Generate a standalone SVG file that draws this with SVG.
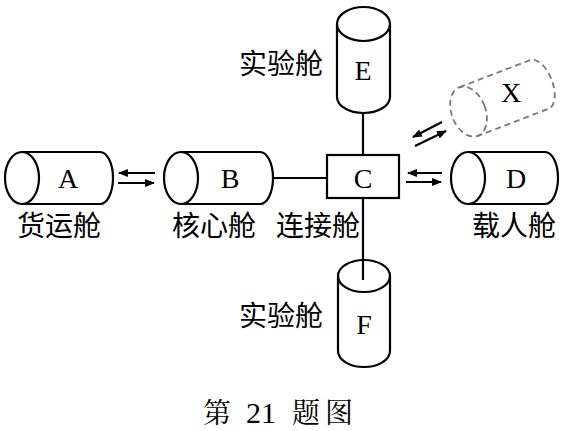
<svg xmlns="http://www.w3.org/2000/svg" width="563" height="431" viewBox="0 0 563 431">
<defs>
<style>
.s{fill:none;stroke:#000;stroke-width:2.2}
.d{fill:none;stroke:#777;stroke-width:1.8;stroke-dasharray:6 4}
.lt{font-family:"Liberation Serif",serif;font-size:28px;text-anchor:middle;fill:#000}
.cn{font-family:"Noto Sans CJK SC",sans-serif;font-size:28px;fill:#000}
.ar{stroke:#000;stroke-width:2.2;fill:none}
</style>
<marker id="ah" viewBox="0 0 10 10" refX="9" refY="5" markerWidth="4.5" markerHeight="4.5" orient="auto"><path d="M0,1 L10,5 L0,9 Z" fill="#000"/></marker>
</defs>
<rect width="563" height="431" fill="#fff"/>
<g id="connectors">
<line class="s" x1="273" y1="178" x2="327" y2="178"/>
<line class="s" x1="363" y1="112" x2="363" y2="155"/>
<line class="s" x1="363" y1="198" x2="363" y2="280"/>
<line class="ar" x1="155" y1="173" x2="119" y2="173" marker-end="url(#ah)"/>
<line class="ar" x1="118" y1="183" x2="154" y2="183" marker-end="url(#ah)"/>
<line class="ar" x1="442" y1="173" x2="408" y2="173" marker-end="url(#ah)"/>
<line class="ar" x1="406" y1="182" x2="441" y2="182" marker-end="url(#ah)"/>
<line class="ar" x1="442" y1="122" x2="413" y2="137" marker-end="url(#ah)"/>
<line class="ar" x1="415" y1="146" x2="446" y2="131" marker-end="url(#ah)"/>
</g>
<g id="A">
<ellipse class="s" cx="22" cy="178" rx="17" ry="26"/>
<path class="s" d="M22,152 L100,152 A13,26 0 0 1 100,204 L22,204"/>
<text class="lt" x="68" y="188">A</text>
<text class="cn" x="17" y="236">货运舱</text>
</g>
<g id="B">
<ellipse class="s" cx="181" cy="178" rx="17" ry="26"/>
<path class="s" d="M181,152 L260,152 A13,26 0 0 1 260,204 L181,204"/>
<text class="lt" x="230" y="188">B</text>
<text class="cn" x="172" y="236">核心舱</text>
</g>
<g id="C">
<rect class="s" x="327" y="155" width="72" height="43" fill="#fff"/>
<text class="lt" x="363" y="188">C</text>
<text class="cn" x="276" y="236">连接舱</text>
</g>
<g id="D">
<ellipse class="s" cx="468" cy="178" rx="17" ry="26"/>
<path class="s" d="M468,152 L545,152 A13,26 0 0 1 545,204 L468,204"/>
<text class="lt" x="516" y="188">D</text>
<text class="cn" x="472" y="236">载人舱</text>
</g>
<g id="E">
<ellipse class="s" cx="363.5" cy="24" rx="26.5" ry="17"/>
<path class="s" d="M337,24 L337,97 A26.5,16 0 0 0 390,97 L390,24"/>
<text class="lt" x="363" y="80">E</text>
<text class="cn" x="239" y="74">实验舱</text>
</g>
<g id="F">
<ellipse class="s" cx="364" cy="276" rx="26" ry="16"/>
<path class="s" d="M338,276 L338,351 A26,16 0 0 0 390,351 L390,276"/>
<text class="lt" x="364" y="334">F</text>
<text class="cn" x="239" y="326">实验舱</text>
</g>
<g id="X">
<g transform="translate(504,98) rotate(-21)">
<ellipse class="d" cx="-38" cy="0" rx="17" ry="26"/>
<path class="d" d="M-38,-26 L38,-26 A13,26 0 0 1 38,26 L-38,26"/>
</g>
<text class="lt" x="511" y="102">X</text>
</g>
<text class="cn" y="423" style="font-family:'Noto Serif CJK SC','Noto Sans CJK SC',serif"><tspan x="203">第</tspan><tspan x="246" style="font-family:'Liberation Serif',serif;font-size:30px">21</tspan><tspan x="292">题</tspan><tspan x="325">图</tspan></text>
</svg>
